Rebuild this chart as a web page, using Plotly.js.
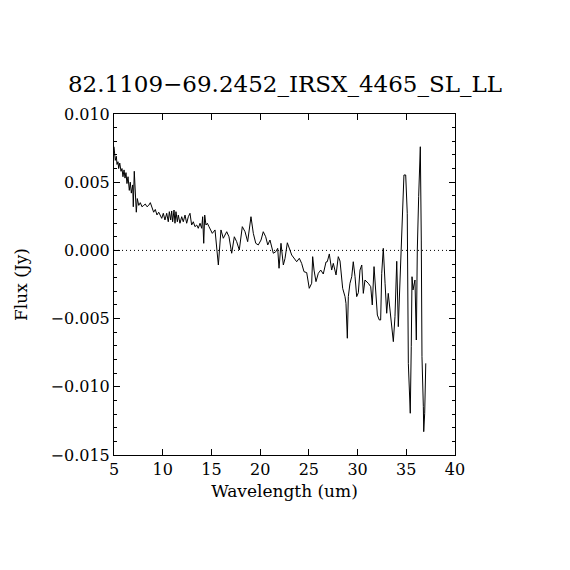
<!DOCTYPE html>
<html>
<head>
<meta charset="utf-8">
<script src="https://cdn.plot.ly/plotly-3.0.1.min.js"></script>
<style>html,body{margin:0;padding:0;background:#fff;}#chart{width:570px;height:570px;}</style>
</head>
<body>
<div id="chart"></div>
<script>
const chartTitle = "82.1109\u221269.2452_IRSX_4465_SL_LL";
const xTitle = "Wavelength (um)";
const yTitle = "Flux (Jy)";

const wavelength = [
 5.00, 5.07, 5.13, 5.24, 5.31, 5.41, 5.48, 5.59, 5.72, 5.82, 5.92, 6.03, 6.13, 6.23, 6.33, 6.44,
 6.57, 6.67, 6.78, 6.92, 6.98, 7.08, 7.19, 7.29, 7.39, 7.54, 7.70, 7.87, 8.05, 8.21, 8.39, 8.56,
 8.73, 8.90, 9.07, 9.24, 9.41, 9.59, 9.72, 9.90, 10.06, 10.23, 10.41, 10.57, 10.68, 10.82, 10.92,
 11.02, 11.16, 11.26, 11.36, 11.50, 11.60, 11.77, 11.95, 12.11, 12.29, 12.46, 12.63, 12.80, 12.97,
 13.14, 13.31, 13.49, 13.65, 13.83, 14.00, 14.10, 14.21, 14.31, 14.44, 14.58, 14.75,
 14.85, 15.09, 15.37, 15.71,
 15.98, 16.22, 16.57, 16.80, 17.08, 17.35, 17.59, 17.86, 18.17, 18.45, 18.72, 19.06, 19.30,
 19.55, 19.81, 20.09, 20.32, 20.57, 20.78, 21.01, 21.35, 21.60, 21.80, 21.94, 22.14, 22.38,
 22.55, 22.79, 23.24, 23.75, 24.02, 24.26, 24.50, 24.78, 25.04, 25.29, 25.39, 25.53, 25.73,
 25.97, 26.22, 26.48, 26.76, 26.89, 27.10, 27.34, 27.51, 27.79, 28.02, 28.20, 28.47, 28.71,
 28.81, 28.95, 29.05, 29.22, 29.40, 29.56, 29.74, 29.91, 30.08, 30.25, 30.43, 30.59, 30.76,
 30.94, 31.10, 31.35, 31.51, 31.69, 31.89, 32.03, 32.23, 32.37, 32.48, 32.64, 32.82, 32.99,
 33.15, 33.33, 33.50, 33.67, 33.84, 34.02, 34.18, 34.35, 34.46, 34.63, 34.76, 34.94, 35.10,
 35.21, 35.31, 35.41, 35.51, 35.59, 35.69, 35.79, 35.89, 36.03, 36.13, 36.27, 36.34, 36.44,
 36.54, 36.61, 36.75, 36.79, 36.89, 37.00
];
const flux = [
 0.0076, 0.0071, 0.0066, 0.0069, 0.0063, 0.0065, 0.0060, 0.0064, 0.0058, 0.0060, 0.0054, 0.0059, 0.0053, 0.0057, 0.0049, 0.0054,
 0.0044, 0.0050, 0.0042, 0.0048, 0.0032, 0.0058, 0.0042, 0.0028, 0.0038, 0.0033, 0.0035, 0.0032, 0.0033, 0.0034, 0.0032, 0.0033,
 0.0035, 0.0032, 0.0028, 0.0030, 0.0026, 0.0028, 0.00259, 0.00235, 0.00272, 0.00223, 0.00272, 0.00210, 0.00284, 0.00223, 0.00289,
 0.00210, 0.00296, 0.00199, 0.00284, 0.00210, 0.00259, 0.00199, 0.00247, 0.00210, 0.00259, 0.00199, 0.00247, 0.00272, 0.00186,
 0.00210, 0.00174, 0.00186, 0.00162, 0.00199, 0.00162, 0.00247, 0.00052, 0.00259, 0.00186, 0.00199, 0.00174,
 0.00162, 0.00125, 0.00150, -0.00107,
 0.00150, 0.00089, 0.00137, 0.00100, -0.00021, 0.00100, 0.00064, 0.00003, 0.00174, 0.00137, 0.00064, 0.00247, 0.00125,
 0.00052, 0.00040, 0.00076, 0.00137, 0.00100, 0.00040, 0.00076, -0.00021, -0.00010, 0.00015, -0.00131, 0.00052, -0.00107,
 -0.00060, 0.00056, -0.00034, -0.00083, -0.00058, -0.00095, -0.00156, -0.00163, -0.00278, -0.00241, -0.00046, -0.00144, -0.00229,
 -0.00168, -0.00144, -0.00173, -0.00085, -0.00083, -0.00026, -0.00144, -0.00095, -0.00180, -0.00046, -0.00078, -0.00278, -0.00339,
 -0.00388, -0.00644, -0.00339, -0.00241, -0.00193, -0.00083, -0.00193, -0.00339, -0.00310, -0.00144, -0.00107, -0.00315, -0.00217,
 -0.00229, -0.00241, -0.00266, -0.00400, -0.00119, -0.00364, -0.00474, -0.00510, -0.00510, -0.00168, 0.00015, -0.00241, -0.00461,
 -0.00315, -0.00449, -0.00584, -0.00669, -0.00486, -0.00080, -0.00559, -0.00241, -0.00021, 0.00345, 0.00553, 0.00553, 0.00272,
 -0.00828, -0.01121, -0.01194, -0.00706, -0.00193, -0.00290, -0.00241, -0.00217, -0.00657, 0.00003, 0.00394, 0.00639, 0.00760,
 0.00076, -0.00779, -0.01146, -0.01329, -0.01194, -0.00828
];

const xRange = [5, 40];
const yRange = [-0.015, 0.010];
const xTicks = [5, 10, 15, 20, 25, 30, 35, 40];
const yTicks = [-0.015, -0.010, -0.005, 0.000, 0.005, 0.010];

const FONT = "DejaVu Serif";

const trace = {
  x: wavelength, y: flux, type: "scatter", mode: "lines",
  line: {color: "#000", width: 1}, hoverinfo: "skip"
};

const layout = {
  width: 570, height: 570,
  paper_bgcolor: "#fff", plot_bgcolor: "#fff",
  margin: {l: 114, r: 115, t: 114, b: 115, pad: 0},
  showlegend: false,
  font: {family: FONT, color: "#000", size: 16},
  title: {text: chartTitle, font: {family: FONT, size: 23, color: "#000"},
          x: 0.5, xanchor: "center", y: 1 - 84/570, yanchor: "middle", yref: "container"},
  xaxis: {
    range: xRange, tickmode: "array", tickvals: xTicks, ticktext: xTicks.map(String),
    ticks: "inside", ticklen: 6, tickwidth: 1, tickcolor: "#000",
    showline: true, linecolor: "#000", linewidth: 1, mirror: "ticks",
    showgrid: false, zeroline: false,
    tickfont: {family: FONT, size: 16, color: "#000"},
    title: {text: xTitle, font: {family: FONT, size: 17, color: "#000"}, standoff: 6}
  },
  yaxis: {
    range: yRange, tickmode: "array", tickvals: yTicks,
    ticktext: yTicks.map(v => (v < 0 ? "\u2212" : "") + Math.abs(v).toFixed(3)),
    ticks: "inside", ticklen: 6, tickwidth: 1, tickcolor: "#000",
    showline: true, linecolor: "#000", linewidth: 1, mirror: "ticks",
    showgrid: false, zeroline: false,
    minor: {dtick: 0.001, ticks: "inside", ticklen: 3, tickcolor: "#000", tickwidth: 1, showgrid: false},
    tickfont: {family: FONT, size: 16, color: "#000"},
    title: {text: yTitle, font: {family: FONT, size: 17, color: "#000"}, standoff: 18}
  },
  shapes: [{type: "line", xref: "paper", x0: 0, x1: 1, yref: "y", y0: 0, y1: 0,
            line: {color: "#000", width: 1, dash: "1px,3px"}, layer: "below"}]
};

Plotly.newPlot("chart", [trace], layout, {displayModeBar: false, staticPlot: true});
</script>
</body>
</html>
